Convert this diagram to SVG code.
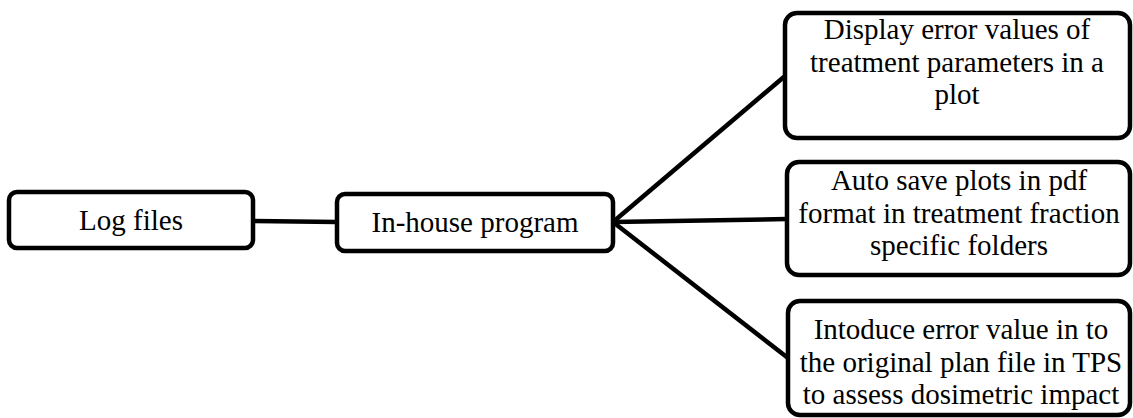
<svg xmlns="http://www.w3.org/2000/svg" width="1133" height="418" viewBox="0 0 1133 418">
<style>
.box{fill:#fff;stroke:#000;stroke-width:4.5}
.t{font-family:"Liberation Serif","Times New Roman",serif;font-size:29px;fill:#000;text-anchor:middle}
.c{stroke:#000;stroke-width:4.5;fill:none}
</style>
<rect width="1133" height="418" fill="#fff"/>
<g id="connectors">
<line class="c" x1="253" y1="221" x2="337" y2="222"/>
<line class="c" x1="613" y1="222" x2="785" y2="76"/>
<line class="c" x1="613" y1="222" x2="787" y2="219"/>
<line class="c" x1="613" y1="222" x2="788" y2="358"/>
</g>
<g id="node-log">
<rect class="box" x="9" y="192" width="244" height="56" rx="8"/>
<text class="t" x="131" y="230">Log files</text>
</g>
<g id="node-program">
<rect class="box" x="337" y="194" width="276" height="57" rx="8"/>
<text class="t" x="475" y="232">In-house program</text>
</g>
<g id="node-display">
<rect class="box" x="785" y="13" width="345" height="125" rx="12"/>
<text class="t" x="957" y="39">Display error values of</text>
<text class="t" x="957" y="72">treatment parameters in a</text>
<text class="t" x="957" y="104">plot</text>
</g>
<g id="node-save">
<rect class="box" x="787" y="162" width="343" height="113" rx="12"/>
<text class="t" x="959" y="190">Auto save plots in pdf</text>
<text class="t" x="959" y="223">format in treatment fraction</text>
<text class="t" x="959" y="255">specific folders</text>
</g>
<g id="node-introduce">
<rect class="box" x="788" y="301" width="342" height="114" rx="12"/>
<text class="t" x="961" y="339">Intoduce error value in to</text>
<text class="t" x="961" y="372">the original plan file in TPS</text>
<text class="t" x="961" y="404">to assess dosimetric impact</text>
</g>
</svg>
